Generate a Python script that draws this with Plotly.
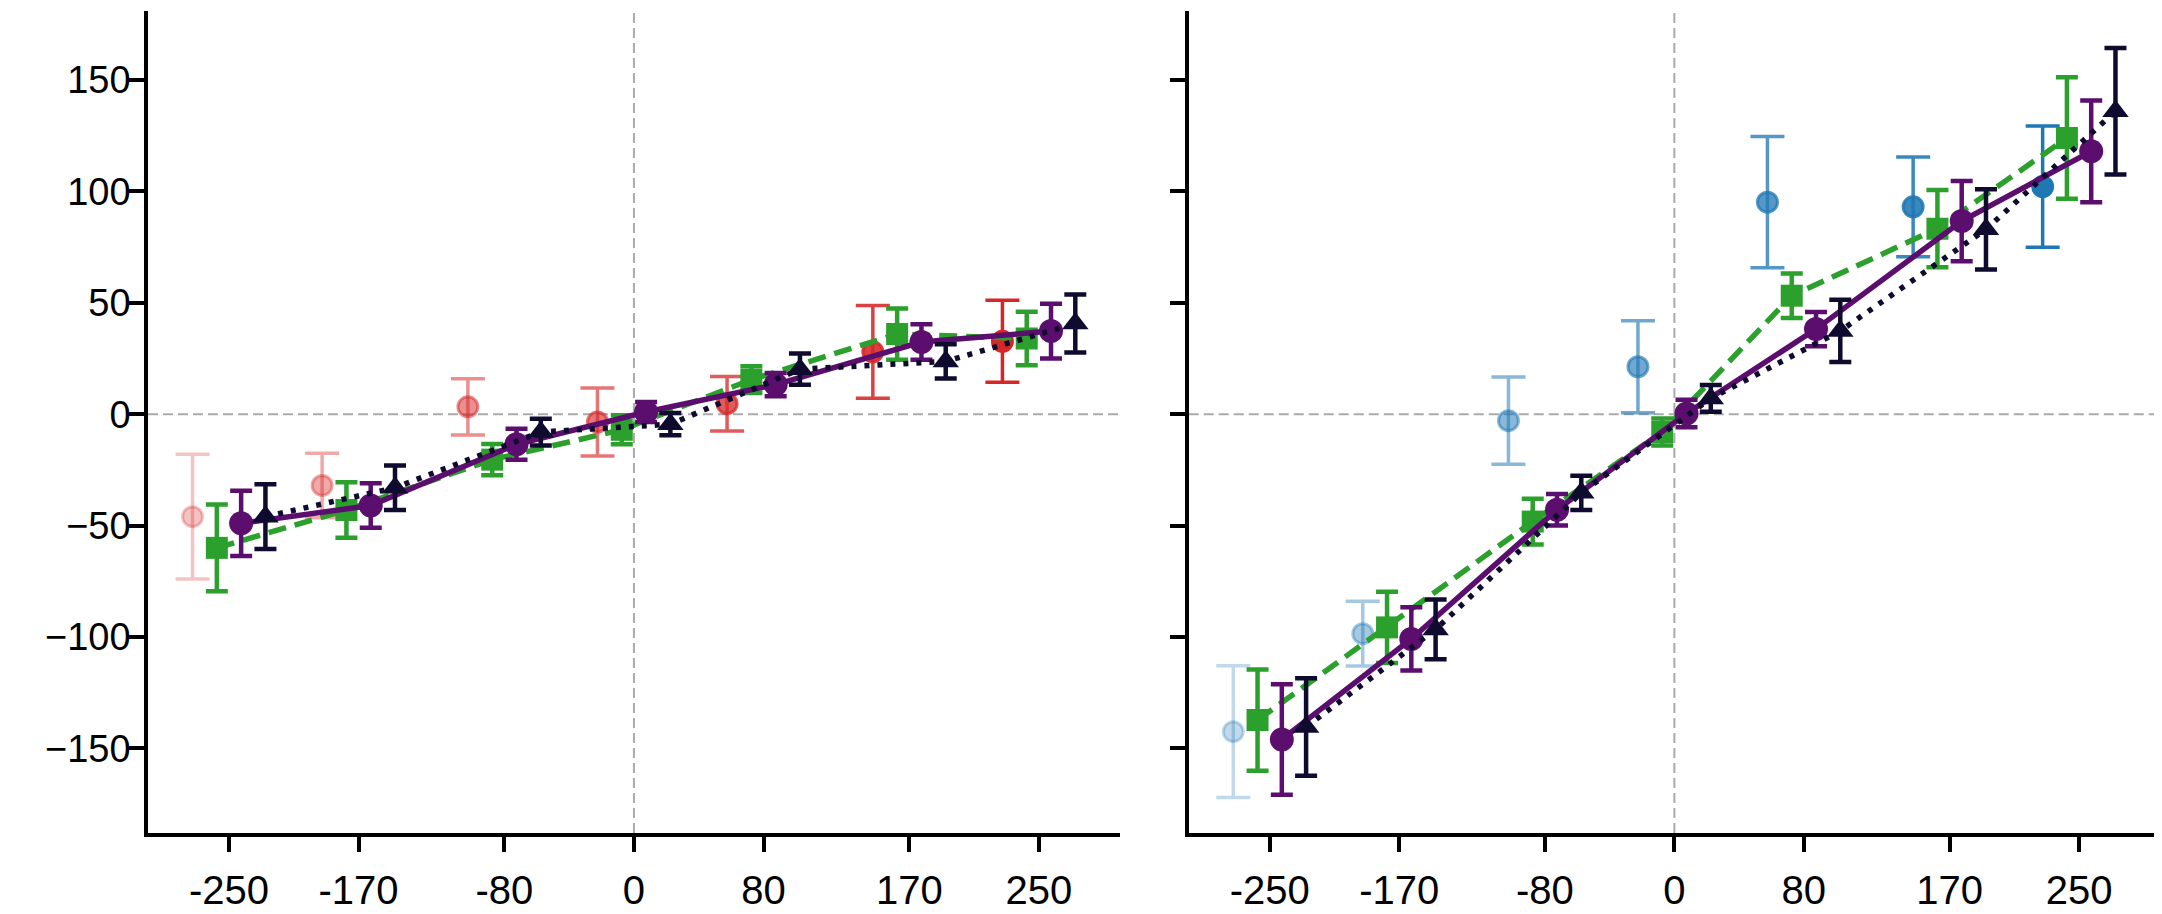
import numpy as np
import plotly.graph_objects as go

# ---------------- data ----------------
x_ticks = [-250, -170, -80, 0, 80, 170, 250]
tick_labels = ["-250", "-170", "-80", "0", "80", "170", "250"]
y_ticks = [-150, -100, -50, 0, 50, 100, 150]

# left panel
obs_left = [-46, -32, 3.3, -3.5, 4.7, 28, 32.7]
obs_left_err = [28, 14.5, 12.6, 15.3, 12.2, 20.8, 18.4]
green_left = [-60, -43, -20.4, -7, 15.5, 36, 34]
green_left_err = [19.5, 12.5, 7, 6.5, 6, 11.5, 12]
purple_left = [-49, -41, -13.5, 1, 13.3, 32.4, 37.3]
purple_left_err = [14.6, 10, 7, 4.5, 5.2, 8, 12.3]
navy_left = [-46, -33, -8, -4.5, 20.2, 23.7, 40.7]
navy_left_err = [14.5, 10, 6, 5, 7, 7.7, 13]

# right panel
obs_right = [-142.5, -98.5, -2.9, 21.3, 95.2, 93.1, 102.2]
obs_right_err = [29.6, 14.5, 19.6, 20.7, 29.5, 22.4, 27.2]
green_right = [-137.3, -95.7, -48.2, -8, 53.2, 83.3, 124]
green_right_err = [22.7, 16, 10.3, 6.1, 10, 17.3, 27.3]
purple_right = [-146, -100.9, -42.9, 0.3, 38.2, 86.7, 118]
purple_right_err = [24.8, 14.2, 7.1, 6.2, 7.7, 18, 22.8]
navy_right = [-140.4, -96.6, -35.3, 7.1, 37.4, 83, 136]
navy_right_err = [21.9, 13.4, 7.7, 6, 14, 18, 28.4]

obs_alpha = [0.28, 0.4, 0.52, 0.64, 0.76, 0.88, 1.0]

# ---------------- styles ----------------
OFFSETS = {"obs": -22.5, "green": -7.5, "purple": 7.5, "navy": 22.5}
RED = (214, 39, 40)
BLUE = (31, 119, 180)
GREEN = "#2ca02c"
PURPLE = "#5c0e6e"
NAVY = "#0e0b2f"
FONT = "Liberation Sans, Arial, sans-serif"

xt = np.array(x_ticks, dtype=float)

fig = go.Figure()


def add_obs(vals, errs, rgb, xa, ya):
    for xv, yv, ev, a in zip(xt + OFFSETS["obs"], vals, errs, obs_alpha):
        col = "rgba(%d,%d,%d,%.2f)" % (rgb[0], rgb[1], rgb[2], a)
        fig.add_trace(go.Scatter(
            x=[xv], y=[yv], mode="markers", xaxis=xa, yaxis=ya,
            marker=dict(symbol="circle", size=20, color=col,
                        line=dict(color=col, width=3)),
            error_y=dict(type="data", array=[ev], visible=True, color=col,
                         thickness=3.5, width=17),
            showlegend=False, hoverinfo="skip"))


def add_series(vals, errs, key, color, symbol, size, dash, xa, ya):
    fig.add_trace(go.Scatter(
        x=xt + OFFSETS[key], y=vals, mode="lines+markers", xaxis=xa, yaxis=ya,
        line=dict(color=color, width=5.5, dash=dash),
        marker=dict(symbol=symbol, size=size, color=color, line=dict(width=0)),
        error_y=dict(type="data", array=errs, visible=True, color=color,
                     thickness=4.5, width=11),
        showlegend=False, hoverinfo="skip"))


for (ob, obe, rgb, gr, gre, pu, pue, nv, nve, xa, ya) in [
    (obs_left, obs_left_err, RED, green_left, green_left_err, purple_left,
     purple_left_err, navy_left, navy_left_err, "x", "y"),
    (obs_right, obs_right_err, BLUE, green_right, green_right_err, purple_right,
     purple_right_err, navy_right, navy_right_err, "x2", "y2"),
]:
    add_obs(ob, obe, rgb, xa, ya)
    add_series(gr, gre, "green", GREEN, "square", 22, "18px,9px", xa, ya)
    add_series(pu, pue, "purple", PURPLE, "circle", 24, "solid", xa, ya)
    add_series(nv, nve, "navy", NAVY, "triangle-up", 23, "5px,8px", xa, ya)

# zero reference lines
shapes = []
for xr, yr in [("x", "y"), ("x2", "y2")]:
    shapes.append(dict(type="line", xref=xr + " domain", yref=yr, x0=0, x1=1, y0=0, y1=0,
                       line=dict(color="#aaaaaa", width=2, dash="10px,5px"), layer="below"))
    shapes.append(dict(type="line", xref=xr, yref=yr + " domain", x0=0, x1=0, y0=0, y1=1,
                       line=dict(color="#aaaaaa", width=2, dash="10px,5px"), layer="below"))

# page body has an 8px margin; size the figure to fit the window
PAGE = 8
W, H = 2162 - PAGE, 914 - PAGE
L, R, T, B = 147.5 - PAGE, 2, 11 - PAGE, 68
pw = W - L - R
d1 = (1119.6 - PAGE - L) / pw
d2 = (1188.5 - PAGE - L) / pw

axis_common = dict(showline=True, linecolor="black", linewidth=3.5, ticks="outside",
                   ticklen=15, tickwidth=3.5, tickcolor="black", showgrid=False,
                   zeroline=False)
xfont = dict(family=FONT, size=40, color="black")
yfont = dict(family=FONT, size=38, color="black")

fig.update_layout(
    width=W, height=H,
    margin=dict(l=L, r=R, t=T, b=B, pad=0),
    plot_bgcolor="white", paper_bgcolor="white",
    shapes=shapes,
    xaxis=dict(domain=[0, d1], range=[-300, 300], tickvals=x_ticks, ticktext=tick_labels,
               anchor="y", ticklabelstandoff=4, tickfont=xfont, **axis_common),
    xaxis2=dict(domain=[d2, 1], range=[-300, 300], tickvals=x_ticks, ticktext=tick_labels,
                anchor="y2", ticklabelstandoff=4, tickfont=xfont, **axis_common),
    yaxis=dict(range=[-188, 181], tickvals=y_ticks, anchor="x", ticklabelstandoff=-9,
               tickfont=yfont, **axis_common),
    yaxis2=dict(range=[-188, 181], tickvals=y_ticks, anchor="x2", matches="y",
                showticklabels=False, tickfont=yfont, **axis_common),
)

fig.write_html("out.html")
